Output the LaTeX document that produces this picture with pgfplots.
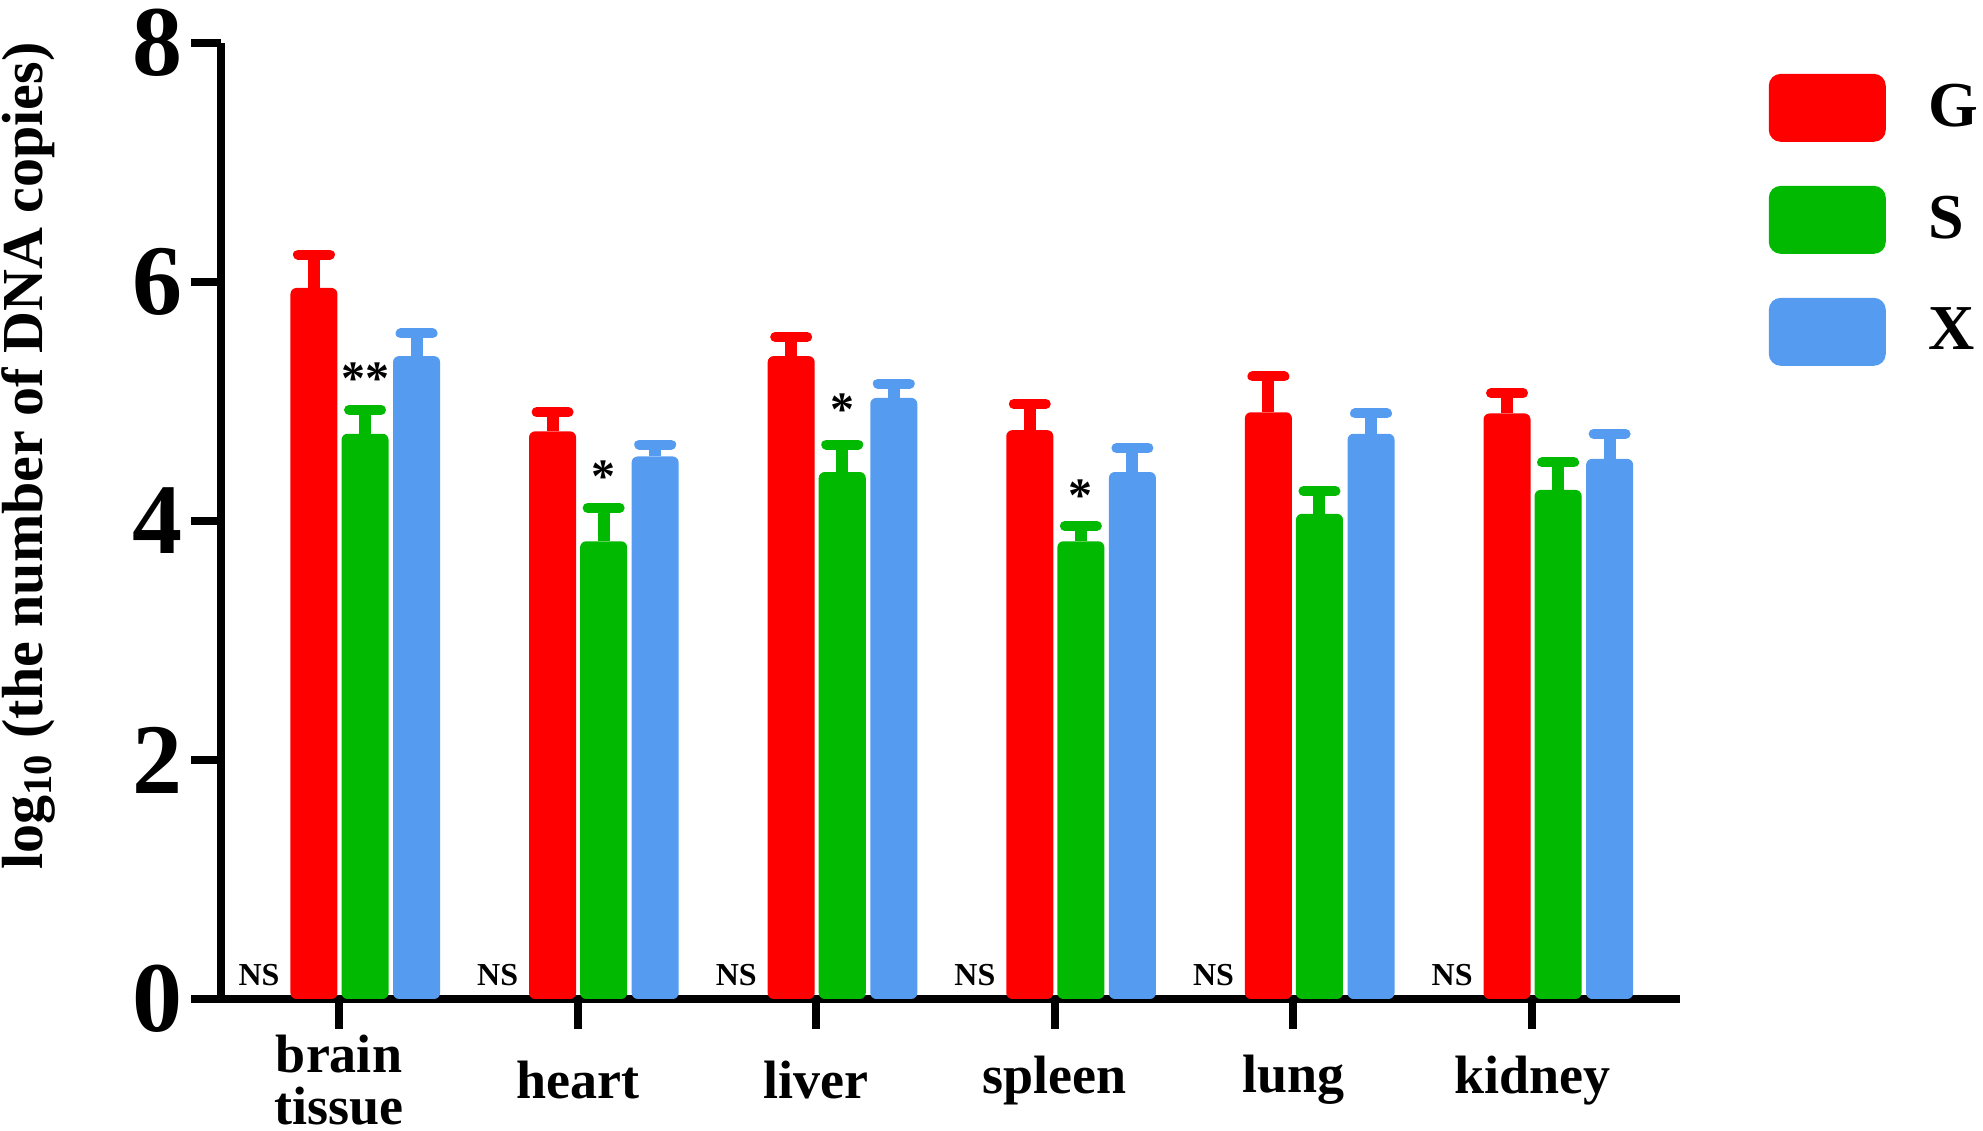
\documentclass[border=0pt]{standalone}
\usepackage{fontspec}
\setmainfont{Liberation Serif}
\usepackage{pgfplots}
\usepackage{pgfplotstable}
\pgfplotsset{compat=1.18}
\definecolor{cG}{RGB}{255,0,0}
\definecolor{cS}{RGB}{0,185,0}
\definecolor{cX}{RGB}{85,155,240}

\pgfplotstableread{
x y e
0 5.95 0.28
1 4.75 0.16
2 5.38 0.16
3 4.76 0.22
4 4.91 0.30
5 4.90 0.17
}\tabG
\pgfplotstableread{
x y e
0 4.73 0.20
1 3.83 0.28
2 4.41 0.23
3 3.83 0.13
4 4.06 0.19
5 4.26 0.23
}\tabS
\pgfplotstableread{
x y e
0 5.38 0.19
1 4.54 0.10
2 5.03 0.12
3 4.41 0.20
4 4.73 0.17
5 4.52 0.21
}\tabX
\pgfplotstableread{
x y
0 0
1 0
2 0
3 0
4 0
5 0
}\tabNS
\pgfplotstableread{
x y lab
0 5.25 **
1 4.43 *
2 4.99 *
3 4.27 *
}\tabStar

\begin{document}
\begin{tikzpicture}
\useasboundingbox (-55.25pt,-33pt) rectangle (440.5pt,249.75pt);
\begin{axis}[
  scale only axis,
  width=364.75pt, height=239pt,
  at={(0pt,0pt)}, anchor=south west,
  xmin=-0.4946, xmax=5.62,
  ymin=0, ymax=8,
  axis x line*=bottom, axis y line*=left,
  axis line style={line width=2pt, black},
  xtick={0,1,2,3,4,5},
  xticklabels={{brain\\tissue},heart,liver,spleen,lung,kidney},
  ytick={0,2,4,6,8},
  tick align=outside,
  major tick length=7.5pt,
  tick style={line width=2pt, black},
  /pgf/number format/assume math mode=true,
  yticklabel style={font=\fontsize{25}{25}\selectfont\bfseries, inner sep=2pt},
  xticklabel style={font=\fontsize{13.5}{12.8}\selectfont\bfseries, align=center, anchor=center, yshift=-12.8pt},
  ylabel={log\textsubscript{10} (the number of DNA copies)},
  ylabel style={at={(axis description cs:-0.132,0.568)}, anchor=center, font=\fontsize{14.5}{14.5}\selectfont\bfseries},
  clip=false,
  legend image code/.code={\fill[#1, draw=none, rounded corners=3pt] (0pt,-8.5pt) rectangle (29.25pt,8.5pt); \path[draw=none, fill=none] (0pt,0pt) rectangle (40pt,0.1pt);},
  legend style={at={(axis description cs:1.0603,0.9686)}, anchor=north west, draw=none, fill=none, inner sep=0pt, row sep=11pt, nodes={inner sep=0pt, anchor=west}, font=\fontsize{16}{16}\selectfont\bfseries},
]
\addplot[ybar, bar width=0.197, bar shift=0pt, fill=cG, draw=none, rounded corners=1.5pt,
  error bars/.cd, y dir=plus, y explicit,
  error bar style={draw=cG, line width=3pt, rounded corners=0pt},
  error mark options={rotate=90, draw=cG, line width=2.5pt, mark size=4pt, line cap=round}]
  table[x expr=\thisrow{x}-0.105, y=y, y error=e] {\tabG};
\addlegendentry{G}
\addplot[ybar, bar width=0.197, bar shift=0pt, fill=cS, draw=none, rounded corners=1.5pt,
  error bars/.cd, y dir=plus, y explicit,
  error bar style={draw=cS, line width=3pt, rounded corners=0pt},
  error mark options={rotate=90, draw=cS, line width=2.5pt, mark size=4pt, line cap=round}]
  table[x expr=\thisrow{x}+0.109, y=y, y error=e] {\tabS};
\addlegendentry{S}
\addplot[ybar, bar width=0.197, bar shift=0pt, fill=cX, draw=none, rounded corners=1.5pt,
  error bars/.cd, y dir=plus, y explicit,
  error bar style={draw=cX, line width=3pt, rounded corners=0pt},
  error mark options={rotate=90, draw=cX, line width=2.5pt, mark size=4pt, line cap=round}]
  table[x expr=\thisrow{x}+0.325, y=y, y error=e] {\tabX};
\addlegendentry{X}
\addplot[draw=none, mark=none, forget plot, nodes near coords={NS},
  nodes near coords style={font=\fontsize{8}{8}\selectfont\bfseries, anchor=base, yshift=3.25pt, text=black, inner sep=0pt}]
  table[x expr=\thisrow{x}-0.335, y=y] {\tabNS};
\addplot[draw=none, mark=none, forget plot, nodes near coords, point meta=explicit symbolic,
  nodes near coords style={font=\fontsize{12}{12}\selectfont\bfseries, anchor=center, yshift=-1.7pt, text=black, inner sep=0pt}]
  table[x expr=\thisrow{x}+0.109, y=y, meta=lab] {\tabStar};
\end{axis}
\end{tikzpicture}
\end{document}
